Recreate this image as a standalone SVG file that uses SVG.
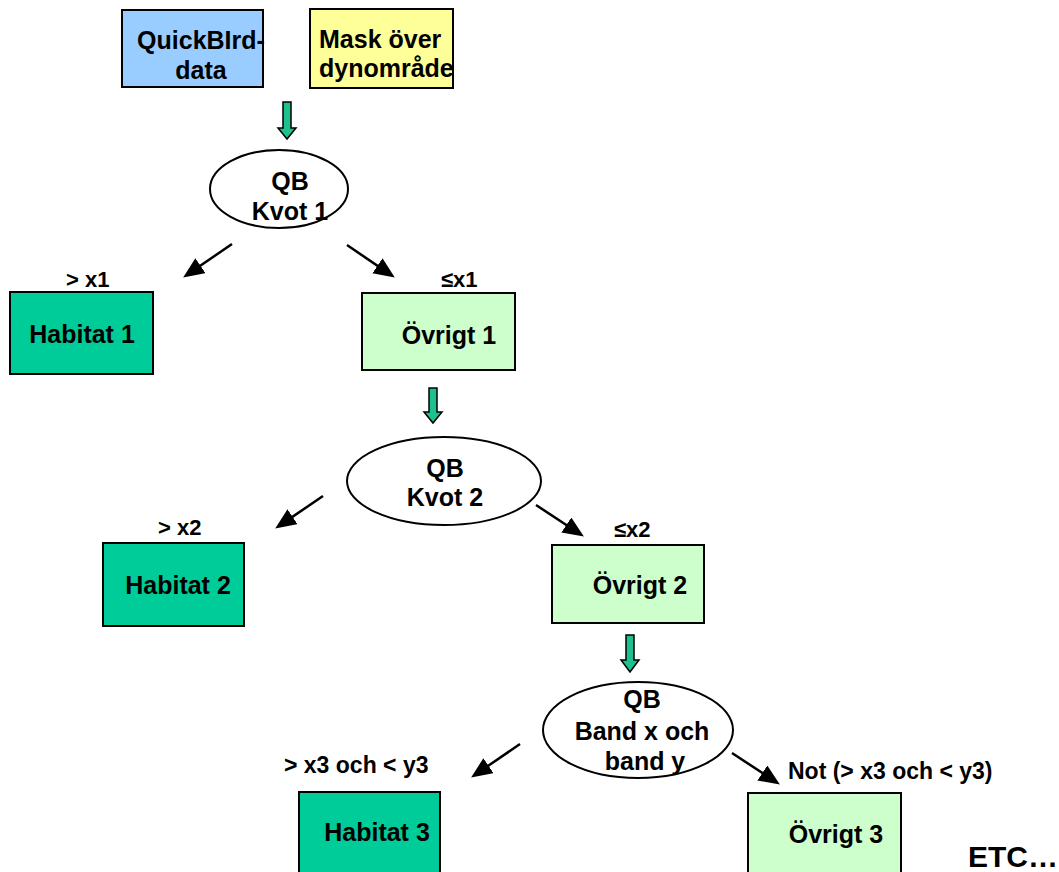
<svg xmlns="http://www.w3.org/2000/svg" width="1059" height="872" viewBox="0 0 1059 872">
<style>
text { font-family: "Liberation Sans", Arial, sans-serif; font-weight: bold; fill: #000; }
.n { font-size: 25px; }
.m { text-anchor: middle; }
.lbl { font-size: 22px; }
.lbl2 { font-size: 23px; }
.box { stroke: #000; stroke-width: 2; }
.hab { fill: #00CC99; }
.ovr { fill: #CCFFCC; }
.ell { fill: #fff; stroke: #000; stroke-width: 2; }
.blk { stroke: #000; stroke-width: 2.5; fill: none; marker-end: url(#ah); }
.garrow { fill: #1DC08E; stroke: #000; stroke-width: 1.5; stroke-linejoin: miter; }
</style>
<defs>
<marker id="ah" markerUnits="userSpaceOnUse" markerWidth="22" markerHeight="20" refX="10" refY="9" orient="auto" viewBox="0 0 22 20">
<path d="M0,0 L21,9 L0,18 z" fill="#000"/>
</marker>
</defs>
<rect width="1059" height="872" fill="#fff"/>

<g id="connectors">
<path class="garrow" d="M283,102 H291 V128 H296 L287,139 L278,128 H283 Z"/>
<path class="garrow" d="M429,388 H437 V412 H442 L433,423 L424,412 H429 Z"/>
<path class="garrow" d="M626,635 H634 V660 H639 L630,672 L621,660 H626 Z"/>
<line class="blk" x1="232" y1="244" x2="192.2" y2="271.3"/>
<line class="blk" x1="347" y1="245" x2="385.7" y2="271.4"/>
<line class="blk" x1="323" y1="496" x2="284.3" y2="522.4"/>
<line class="blk" x1="536" y1="505" x2="574.7" y2="530.5"/>
<line class="blk" x1="520" y1="744" x2="480.2" y2="771.3"/>
<line class="blk" x1="732" y1="753" x2="770.7" y2="778.5"/>
</g>

<g id="quickbird">
<rect class="box" x="122" y="10" width="141" height="77" fill="#99CCFF"/>
<text class="n m" x="201" y="49">QuickBIrd-</text>
<text class="n m" x="201" y="79">data</text>
</g>

<g id="mask">
<rect class="box" x="310" y="9" width="143" height="79" fill="#FFFF99"/>
<text class="n" x="319" y="48">Mask över</text>
<text class="n" x="319" y="77">dynområde</text>
</g>

<g id="qb1">
<ellipse class="ell" cx="279" cy="189" rx="69" ry="39"/>
<text class="n m" x="290" y="190">QB</text>
<text class="n m" x="290" y="220">Kvot 1</text>
</g>

<g id="habitat1">
<text class="lbl" x="66" y="287">&gt; x1</text>
<rect class="box hab" x="10" y="292" width="143" height="82"/>
<text class="n m" x="82" y="343">Habitat 1</text>
</g>

<g id="ovrigt1">
<text class="lbl" x="441" y="287">≤x1</text>
<rect class="box ovr" x="362" y="293" width="153" height="77"/>
<text class="n m" x="449" y="344">Övrigt 1</text>
</g>

<g id="qb2">
<ellipse class="ell" cx="444" cy="481" rx="97" ry="44"/>
<text class="n m" x="445" y="477">QB</text>
<text class="n m" x="445" y="506">Kvot 2</text>
</g>

<g id="habitat2">
<text class="lbl" x="158" y="535">&gt; x2</text>
<rect class="box hab" x="103" y="543" width="141" height="83"/>
<text class="n m" x="178" y="594">Habitat 2</text>
</g>

<g id="ovrigt2">
<text class="lbl" x="614" y="537">≤x2</text>
<rect class="box ovr" x="552" y="545" width="152" height="78"/>
<text class="n m" x="640" y="594">Övrigt 2</text>
</g>

<g id="qb3">
<ellipse class="ell" cx="638" cy="730" rx="95" ry="48"/>
<text class="n m" x="642" y="708">QB</text>
<text class="n m" x="642" y="740">Band x och</text>
<text class="n m" x="645" y="770">band y</text>
</g>

<g id="habitat3">
<text class="lbl2" x="284" y="773">&gt; x3 och &lt; y3</text>
<rect class="box hab" x="299" y="792" width="141" height="90"/>
<text class="n m" x="377" y="841">Habitat 3</text>
</g>

<g id="ovrigt3">
<text class="lbl2" x="788" y="779">Not (&gt; x3 och &lt; y3)</text>
<rect class="box ovr" x="748" y="793" width="153" height="90"/>
<text class="n m" x="836" y="843">Övrigt 3</text>
</g>

<g id="etc">
<text x="968" y="867" style="font-size:30px">ETC…</text>
</g>
</svg>
